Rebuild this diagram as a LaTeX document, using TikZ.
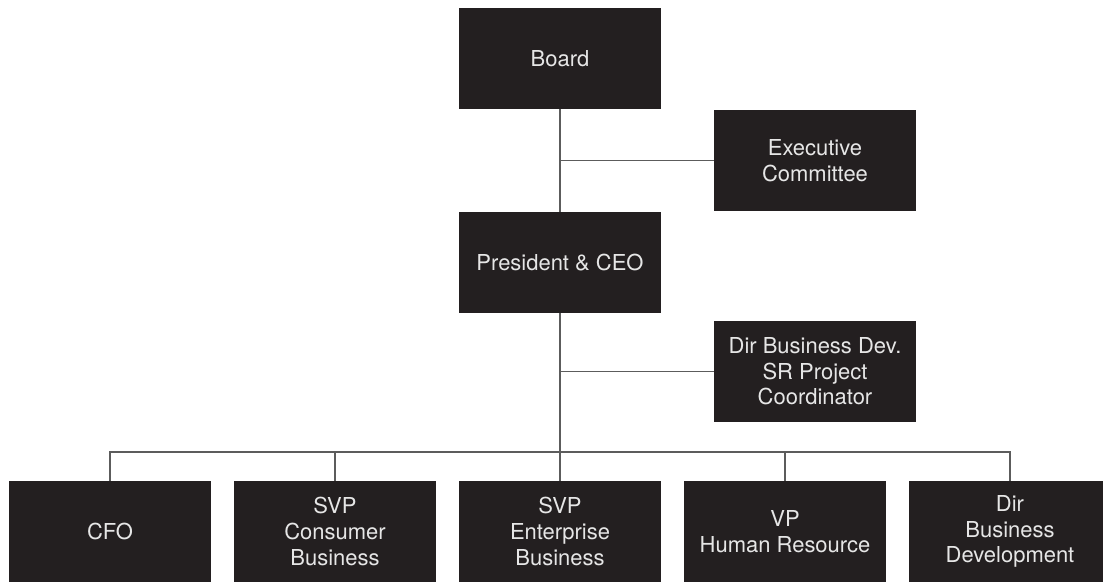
\documentclass[tikz,border=0pt]{standalone}
\usepackage{fontspec}
\setmainfont{TeX Gyre Heros}
\definecolor{boxblack}{HTML}{231F20}
\definecolor{boxtext}{HTML}{E6E6E6}
\definecolor{linkgray}{HTML}{5C5C5C}
\begin{document}
\begin{tikzpicture}[
  every node/.style={font=\fontsize{12.5}{14.6}\selectfont},
  orgbox/.style={fill=boxblack, text=boxtext, align=center, minimum width=4.04cm, minimum height=2.02cm, inner sep=0pt},
  link/.style={draw=linkgray, line width=0.75pt},
  spine/.style={draw=linkgray, line width=1.1pt}]
\useasboundingbox (0,0) rectangle (22.06,11.62);
\clip (0,0) rectangle (22.06,11.62);
% Top of the chart
\node[orgbox] (board) at (11.2,10.45) {Board};
\node[orgbox] (exec) at (16.3,8.41) {Executive\\Committee};
\node[orgbox] (ceo) at (11.2,6.37) {President \& CEO};
\node[orgbox] (bizdev) at (16.3,4.19) {Dir Business Dev.\\SR Project\\Coordinator};
% Direct reports
\node[orgbox] (cfo) at (2.2,0.99) {CFO};
\node[orgbox] (svpc) at (6.7,0.99) {SVP\\Consumer\\Business};
\node[orgbox] (svpe) at (11.2,0.99) {SVP\\Enterprise\\Business};
\node[orgbox] (vphr) at (15.7,0.99) {VP\\Human Resource};
\node[orgbox] (dirbd) at (20.2,0.99) {Dir\\Business\\Development};
\coordinate (bus) at (11.2,2.58);
% Connectors
\draw[spine] (board) -- (ceo);
\draw[spine] (ceo) -- (svpe);
\draw[link] (exec.west) -- (board |- exec.west);
\draw[link] (bizdev.west) -- (ceo |- bizdev.west);
\draw[link] (cfo.north) -- (cfo.north |- bus) -- (dirbd.north |- bus) -- (dirbd.north);
\foreach \n in {svpc, vphr}
  \draw[link] (\n.north) -- (\n.north |- bus);
\end{tikzpicture}
\end{document}
